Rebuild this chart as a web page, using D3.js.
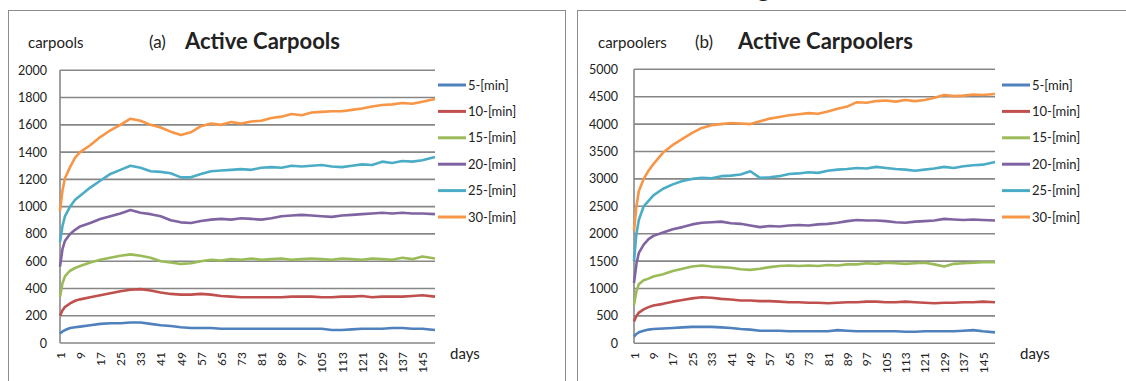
<!DOCTYPE html>
<html>
<head>
<meta charset="utf-8">
<script src="https://cdn.jsdelivr.net/npm/d3@7"></script>
<style>
  body { margin: 0; background: #fff; }
  text { font-family: Lato, "Liberation Sans", sans-serif; fill: #222; }
</style>
</head>
<body>
<div id="chart"></div>
<script>
// sampled days (category axis runs 1..150)
const days = [1, 2, 3, 5, 7, 9, 13, 17, 21, 25, 29, 33, 37, 41, 45, 49, 53, 57, 61, 65, 69, 73, 77, 81, 85, 89, 93, 97, 101, 105, 109, 113, 117, 121, 125, 129, 133, 137, 141, 145, 150]
const dayTicks = [1, 9, 17, 25, 33, 41, 49, 57, 65, 73, 81, 89, 97, 105, 113, 121, 129, 137, 145]
const seriesNames = ["5-[min]", "10-[min]", "15-[min]", "20-[min]", "25-[min]", "30-[min]"]
const seriesColors = ["#4F81BD", "#C0504D", "#9BBB59", "#8064A2", "#4BACC6", "#F79646"]

// (a) active carpools
const carpools5 = [70, 85, 95, 110, 115, 120, 130, 140, 145, 145, 150, 150, 140, 130, 125, 115, 110, 110, 110, 105, 105, 105, 105, 105, 105, 105, 105, 105, 105, 105, 95, 95, 100, 105, 105, 105, 110, 110, 105, 105, 95]
const carpools10 = [200, 240, 265, 290, 310, 320, 335, 350, 365, 380, 390, 395, 385, 370, 360, 355, 355, 360, 355, 345, 340, 335, 335, 335, 335, 335, 340, 340, 340, 335, 335, 340, 340, 345, 335, 340, 340, 340, 345, 350, 340]
const carpools15 = [340, 440, 490, 530, 550, 565, 590, 610, 625, 640, 650, 640, 625, 600, 590, 580, 585, 600, 610, 605, 615, 610, 620, 610, 615, 620, 610, 615, 620, 615, 610, 620, 615, 610, 620, 615, 610, 625, 615, 635, 620]
const carpools20 = [560, 690, 750, 800, 830, 855, 880, 910, 930, 950, 975, 955, 945, 930, 900, 885, 880, 895, 905, 910, 905, 915, 910, 905, 915, 930, 935, 940, 935, 930, 925, 935, 940, 945, 950, 955, 950, 955, 950, 950, 945]
const carpools25 = [740, 860, 930, 1000, 1050, 1080, 1140, 1190, 1240, 1270, 1300, 1285, 1260, 1255, 1245, 1215, 1215, 1240, 1260, 1265, 1270, 1275, 1270, 1285, 1290, 1285, 1300, 1295, 1300, 1305, 1295, 1290, 1300, 1310, 1305, 1330, 1320, 1335, 1330, 1340, 1365]
const carpools30 = [970, 1120, 1210, 1290, 1360, 1400, 1450, 1510, 1560, 1600, 1645, 1630, 1600, 1580, 1550, 1525, 1545, 1590, 1610, 1600, 1620, 1610, 1625, 1630, 1650, 1660, 1680, 1670, 1690, 1695, 1700, 1700, 1710, 1720, 1735, 1745, 1750, 1760, 1755, 1770, 1790]
const carpoolTicks = [0, 200, 400, 600, 800, 1000, 1200, 1400, 1600, 1800, 2000]

// (b) active carpoolers
const carpoolers5 = [120, 170, 200, 230, 250, 260, 270, 280, 290, 300, 300, 300, 290, 280, 260, 250, 230, 230, 230, 220, 220, 220, 220, 220, 240, 230, 220, 220, 220, 220, 220, 210, 210, 220, 220, 220, 220, 230, 240, 220, 200]
const carpoolers10 = [400, 500, 560, 620, 660, 690, 720, 760, 790, 820, 840, 830, 810, 800, 780, 780, 770, 770, 760, 750, 750, 740, 740, 730, 740, 750, 750, 760, 760, 750, 750, 760, 750, 740, 730, 740, 740, 750, 750, 760, 750]
const carpoolers15 = [700, 950, 1080, 1150, 1180, 1220, 1260, 1320, 1360, 1400, 1420, 1400, 1390, 1380, 1350, 1340, 1360, 1390, 1410, 1420, 1410, 1420, 1410, 1430, 1420, 1440, 1440, 1460, 1450, 1470, 1460, 1450, 1460, 1470, 1440, 1400, 1450, 1460, 1470, 1480, 1480]
const carpoolers20 = [1100, 1450, 1650, 1800, 1900, 1960, 2020, 2080, 2120, 2170, 2200, 2210, 2220, 2190, 2180, 2150, 2120, 2140, 2130, 2150, 2160, 2150, 2170, 2180, 2200, 2230, 2250, 2240, 2240, 2230, 2210, 2200, 2220, 2230, 2240, 2270, 2260, 2250, 2260, 2250, 2240]
const carpoolers25 = [1500, 2000, 2250, 2500, 2600, 2700, 2820, 2900, 2960, 3000, 3020, 3010, 3050, 3060, 3080, 3140, 3020, 3030, 3050, 3090, 3100, 3120, 3110, 3150, 3170, 3180, 3200, 3190, 3220, 3200, 3180, 3170, 3150, 3170, 3190, 3220, 3200, 3230, 3250, 3260, 3310]
const carpoolers30 = [2050, 2500, 2780, 3000, 3150, 3270, 3480, 3620, 3730, 3840, 3930, 3980, 4000, 4020, 4010, 4000, 4050, 4100, 4130, 4160, 4180, 4200, 4190, 4230, 4280, 4320, 4400, 4390, 4420, 4430, 4410, 4440, 4420, 4440, 4480, 4530, 4510, 4520, 4540, 4530, 4550]
const carpoolerTicks = [0, 500, 1000, 1500, 2000, 2500, 3000, 3500, 4000, 4500, 5000]

const W = 1126, H = 381
const gridColor = "#878787"
const frameColor = "#8c8c8c"

const svg = d3.select("#chart").append("svg")
    .attr("width", W)
    .attr("height", H)

// cut-off caption above the panels (only the descender shows in the source)
svg.append("text")
    .attr("x", 757).attr("y", -3)
    .attr("font-size", 26).attr("font-weight", "bold")
    .text("g")

function drawPanel(p) {
    const g = svg.append("g")

    // outer frame (runs off the bottom of the picture)
    g.append("rect")
        .attr("x", p.frame[0] + 0.5).attr("y", p.frame[1] + 0.5)
        .attr("width", p.frame[2]).attr("height", 420)
        .attr("fill", "#fff").attr("stroke", frameColor).attr("stroke-width", 1)

    const x = d3.scaleLinear().domain([1, 150]).range([p.left, p.right])
    const y = d3.scaleLinear().domain([0, d3.max(p.yTicks)]).range([p.bottom, p.top])

    // horizontal gridlines
    g.selectAll(".grid")
        .data(p.yTicks.filter(v => v > 0))
        .join("line")
        .attr("x1", p.left).attr("x2", p.right)
        .attr("y1", d => y(d)).attr("y2", d => y(d))
        .attr("stroke", gridColor).attr("stroke-width", 1.6)

    // y axis labels
    const yAxis = g.append("g")
        .attr("transform", `translate(${p.left},0)`)
        .call(d3.axisLeft(y).tickValues(p.yTicks).tickSize(0).tickPadding(p.yPad).tickFormat(d3.format("d")))
    yAxis.select(".domain").remove()
    yAxis.selectAll("text").attr("font-size", 12.5).attr("fill", "#222")
        .style("font-family", "Lato, 'Liberation Sans', sans-serif")

    // x axis with rotated day labels
    const xAxis = g.append("g")
        .attr("transform", `translate(0,${p.bottom})`)
        .call(d3.axisBottom(x).tickValues(dayTicks).tickSize(0).tickFormat(d3.format("d")))
    xAxis.select(".domain").remove()
    xAxis.selectAll("text")
        .attr("font-size", 12).attr("fill", "#222")
        .style("font-family", "Lato, 'Liberation Sans', sans-serif")
        .attr("transform", "rotate(-90)")
        .attr("text-anchor", "end")
        .attr("x", -9).attr("y", 0).attr("dy", "0.35em")

    // axis lines
    g.append("line")
        .attr("x1", p.left).attr("x2", p.left).attr("y1", p.top).attr("y2", p.bottom)
        .attr("stroke", gridColor).attr("stroke-width", 1.6)
    g.append("line")
        .attr("x1", p.left).attr("x2", p.right).attr("y1", p.bottom).attr("y2", p.bottom)
        .attr("stroke", gridColor).attr("stroke-width", 1.6)

    // series
    const line = d3.line().x((d, i) => x(days[i])).y(d => y(d))
    g.selectAll(".series")
        .data(p.series)
        .join("path")
        .attr("d", d => line(d))
        .attr("fill", "none")
        .attr("stroke", (d, i) => seriesColors[i])
        .attr("stroke-width", 2.6)
        .attr("stroke-linejoin", "round")

    // legend
    const legend = g.append("g")
        .attr("transform", `translate(${p.legendX},${p.legendY})`)
    legend.selectAll("line")
        .data(seriesNames)
        .join("line")
        .attr("x1", 0).attr("x2", 28)
        .attr("y1", (d, i) => i * 26.4).attr("y2", (d, i) => i * 26.4)
        .attr("stroke", (d, i) => seriesColors[i])
        .attr("stroke-width", 3)
    legend.selectAll("text")
        .data(seriesNames)
        .join("text")
        .attr("x", 30)
        .attr("y", (d, i) => i * 26.4)
        .attr("dy", "0.35em")
        .attr("font-size", 13)
        .text(d => d)

    // titles
    g.append("text")
        .attr("x", p.unitX).attr("y", 48)
        .attr("font-size", 15).attr("fill", "#333")
        .text(p.unit)
    g.append("text")
        .attr("x", p.tagX).attr("y", 48)
        .attr("font-size", 17)
        .text(p.tag)
    g.append("text")
        .attr("x", p.titleX).attr("y", 49)
        .attr("font-size", 22).attr("font-weight", "bold").attr("fill", "#111")
        .text(p.title)

    g.append("text")
        .attr("x", p.daysX).attr("y", 359)
        .attr("font-size", 15)
        .text("days")
}

drawPanel({
    frame: [8, 10, 557],
    left: 60, right: 435, top: 70.3, bottom: 343,
    yTicks: carpoolTicks, yPad: 13,
    series: [carpools5, carpools10, carpools15, carpools20, carpools25, carpools30],
    legendX: 438, legendY: 85,
    unit: "carpools", unitX: 28,
    tag: "(a)", tagX: 149,
    title: "Active Carpools", titleX: 185,
    daysX: 450
})

drawPanel({
    frame: [577, 10, 600],
    left: 634, right: 995, top: 69.3, bottom: 343.3,
    yTicks: carpoolerTicks, yPad: 16,
    series: [carpoolers5, carpoolers10, carpoolers15, carpoolers20, carpoolers25, carpoolers30],
    legendX: 1002, legendY: 85,
    unit: "carpoolers", unitX: 598,
    tag: "(b)", tagX: 695,
    title: "Active Carpoolers", titleX: 738,
    daysX: 1020
})
</script>
</body>
</html>
